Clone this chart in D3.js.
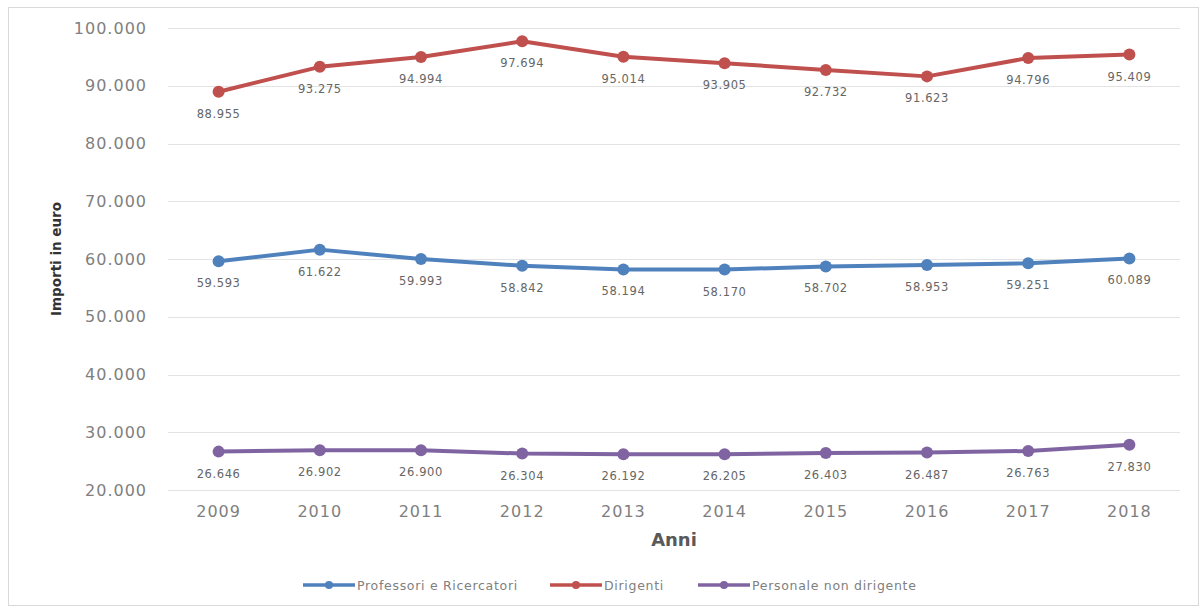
<!DOCTYPE html>
<html>
<head>
<meta charset="utf-8">
<script src="https://cdn.jsdelivr.net/npm/d3@7"></script>
<style>
  html, body { margin: 0; padding: 0; background: #ffffff; }
  svg { display: block; }
</style>
</head>
<body>
<svg id="chart" width="1201" height="608"></svg>
<script>
const years = ["2009","2010","2011","2012","2013","2014","2015","2016","2017","2018"];
const professori = [59593, 61622, 59993, 58842, 58194, 58170, 58702, 58953, 59251, 60089];
const dirigenti  = [88955, 93275, 94994, 97694, 95014, 93905, 92732, 91623, 94796, 95409];
const personale  = [26646, 26902, 26900, 26304, 26192, 26205, 26403, 26487, 26763, 27830];
const seriesNames = ["Professori e Ricercatori", "Dirigenti", "Personale non dirigente"];
const yTicks = [20000, 30000, 40000, 50000, 60000, 70000, 80000, 90000, 100000];
const xTitle = "Anni";
const yTitle = "Importi in euro";

const colors = ["#4f81bd", "#c0504d", "#8064a2"];
const seriesData = [professori, dirigenti, personale];

const svg = d3.select("#chart");

// outer frame
svg.append("rect").attr("x", 8.5).attr("y", 7.5).attr("width", 1190).attr("height", 598)
  .attr("fill", "#fff").attr("stroke", "#d9d9d9").attr("stroke-width", 1);

const plot = {left: 168, right: 1180, top: 28, bottom: 490};

const x = d3.scaleBand().domain(years).range([plot.left, plot.right]).paddingInner(0).paddingOuter(0);
const xc = d => x(d) + x.bandwidth() / 2;
const y = d3.scaleLinear().domain([20000, 100000]).range([plot.bottom, plot.top]);

const fmt = v => d3.format(",")(v).replace(/,/g, ".");

// y axis labels
const yAxis = d3.axisLeft(y).tickValues(yTicks).tickSize(0).tickPadding(21).tickFormat(fmt);
const gy = svg.append("g").attr("transform", `translate(${plot.left},0)`).call(yAxis);
gy.select(".domain").remove();
gy.selectAll("text").attr("font-family", "DejaVu Sans").attr("font-size", 16)
  .attr("letter-spacing", "1px").attr("fill", "#7f7f7f");

// gridlines
svg.append("g").selectAll("line").data(yTicks).join("line")
  .attr("x1", plot.left).attr("x2", plot.right)
  .attr("y1", d => Math.round(y(d)) + 0.5).attr("y2", d => Math.round(y(d)) + 0.5)
  .attr("stroke", "#e3e3e3").attr("stroke-width", 1);

// x axis labels
const xAxis = d3.axisBottom(x).tickSize(0).tickPadding(16);
const gx = svg.append("g").attr("transform", `translate(0,${plot.bottom})`).call(xAxis);
gx.select(".domain").remove();
gx.selectAll("text").attr("font-family", "DejaVu Sans").attr("font-size", 16)
  .attr("letter-spacing", "1px").attr("fill", "#7f7f7f");

// axis titles
svg.append("text").attr("x", (plot.left + plot.right) / 2).attr("y", 546)
  .attr("text-anchor", "middle").attr("font-family", "DejaVu Sans").attr("font-weight", "bold")
  .attr("font-size", 18).attr("fill", "#595959").text(xTitle);

svg.append("text").attr("transform", `translate(61,${(plot.top + plot.bottom) / 2}) rotate(-90)`)
  .attr("text-anchor", "middle").attr("font-family", "DejaVu Sans").attr("font-weight", "bold")
  .attr("font-size", 13.5).attr("fill", "#333333").text(yTitle);

// lines, markers, labels
const line = d3.line().x((d, i) => xc(years[i])).y(d => y(d));
seriesData.forEach((vals, s) => {
  const g = svg.append("g");
  g.append("path").datum(vals).attr("d", line).attr("fill", "none")
    .attr("stroke", colors[s]).attr("stroke-width", 4).attr("stroke-linejoin", "round");
  g.selectAll("circle").data(vals).join("circle")
    .attr("cx", (d, i) => xc(years[i])).attr("cy", d => y(d)).attr("r", 6)
    .attr("fill", colors[s]);
  g.selectAll("text").data(vals).join("text")
    .attr("x", (d, i) => xc(years[i])).attr("y", d => y(d) + 26)
    .attr("text-anchor", "middle").attr("font-family", "DejaVu Sans").attr("font-size", 11.5)
    .attr("letter-spacing", "0.6px").attr("fill", "#666666").text(d => fmt(d));
});

// legend
const legendItems = [
  {x: 303, w: 52},
  {x: 550, w: 52},
  {x: 698, w: 52}
];
const leg = svg.append("g");
const legY = 585;
seriesNames.forEach((name, s) => {
  const it = legendItems[s];
  leg.append("line").attr("x1", it.x).attr("x2", it.x + it.w).attr("y1", legY).attr("y2", legY)
    .attr("stroke", colors[s]).attr("stroke-width", 3.5);
  leg.append("circle").attr("cx", it.x + it.w / 2).attr("cy", legY).attr("r", 4).attr("fill", colors[s]);
  leg.append("text").attr("x", it.x + it.w + 2).attr("y", legY + 4.5)
    .attr("font-family", "DejaVu Sans").attr("font-size", 12.5).attr("letter-spacing", "0.7px")
    .attr("fill", "#808080").text(name);
});
</script>
</body>
</html>
